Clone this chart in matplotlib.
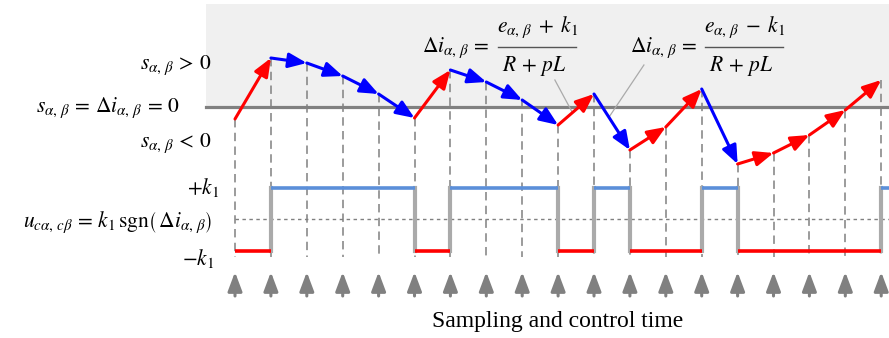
import matplotlib
matplotlib.use("Agg")
import matplotlib.pyplot as plt
import numpy as np

plt.rcParams["mathtext.fontset"] = "stix"
plt.rcParams["font.family"] = ["Liberation Serif", "DejaVu Serif"]

# sampling instants and current error at each one
sample_k = np.arange(19)
current_error = [-1.2, 4.9, 4.4, 3.1, 1.3, -1.1, 3.7, 2.5, 0.7, -1.8,
                 1.3, -4.3, -2.0, 1.8, -5.7, -4.6, -2.8, -0.3, 2.7]
# switching state (+k1 / -k1) applied after each sample
switch_state = [-1, 1, 1, 1, 1, -1, 1, 1, 1, -1, 1, -1, -1, 1, -1, -1, -1, -1, 1]

RED = "#ff0000"
BLUE = "#0000ff"
LIGHT_BLUE = "#5b8fd9"
GREY = "#808080"

# layout of the lower (switching) strip
LOW_MID = -11.25
LOW_AMP = 3.15
DASH_BOTTOM = -15.0
ARROW_TAIL, ARROW_TIP = -18.9, -16.5

fig = plt.figure(figsize=(8.89, 3.38), dpi=100)
ax = fig.add_axes([0, 0, 1, 1])
ax.set_xlim(-6.546, 18.217)
ax.set_ylim(-23.1, 10.7)
ax.axis("off")

# shaded region above the sliding surface
ax.add_patch(plt.Rectangle((-0.81, 0), 30, 10.3, color="#f0f0f0", lw=0, zorder=0))
ax.plot([-0.81, 18.3], [0, 0], color=GREY, lw=2.3, zorder=1)

# dashed sampling lines
for k, s in zip(sample_k, current_error):
    ax.plot([k, k], [s, DASH_BOTTOM], color=GREY, lw=1.1,
            linestyle=(0, (5.5, 3.5)), zorder=2)

# trajectory of the current error
for i in range(len(sample_k) - 1):
    c = BLUE if switch_state[i] > 0 else RED
    ax.annotate("", xy=(sample_k[i + 1], current_error[i + 1]),
                xytext=(sample_k[i], current_error[i]),
                arrowprops=dict(arrowstyle="-|>,head_length=1.1,head_width=0.45",
                                color=c, lw=2.2, shrinkA=0, shrinkB=0,
                                mutation_scale=10),
                zorder=4)

# switching signal
ax.plot([0, 18.3], [LOW_MID, LOW_MID], color=GREY, lw=1.0,
        linestyle=(0, (2.5, 2.5)), zorder=2)
x_end = list(sample_k[1:]) + [18.3]
for i, k in enumerate(sample_k):
    lvl = LOW_MID + LOW_AMP * switch_state[i]
    c = LIGHT_BLUE if switch_state[i] > 0 else RED
    ax.plot([k, x_end[i]], [lvl, lvl], color=c, lw=2.6, zorder=4,
            solid_capstyle="butt")
    if i > 0 and switch_state[i] != switch_state[i - 1]:
        ax.plot([k, k], [LOW_MID - LOW_AMP, LOW_MID + LOW_AMP], color="#aaaaaa",
                lw=3.0, zorder=3)

# sampling arrows
for k in sample_k:
    ax.annotate("", xy=(k, ARROW_TIP), xytext=(k, ARROW_TAIL),
                arrowprops=dict(arrowstyle="-|>,head_length=1.28,head_width=0.48",
                                color=GREY, lw=2.2, shrinkA=0, shrinkB=0,
                                mutation_scale=9))

# labels
fs = 15.5
sub = r"_{\alpha,\,\beta}"
ax.text(-0.67, 4.2, r"$s" + sub + r"\, > \,0$", ha="right", va="center", fontsize=fs)
ax.text(-1.53, -0.1, r"$s" + sub + r"\, = \,\Delta i" + sub + r"\, = \,0$",
        ha="right", va="center", fontsize=fs)
ax.text(-0.67, -3.6, r"$s" + sub + r"\, < \,0$", ha="right", va="center", fontsize=fs)
ax.text(-0.45, -8.1, r"$+k_1$", ha="right", va="center", fontsize=fs)
ax.text(-0.64, -11.6,
        r"$u_{c\alpha,\,c\beta}\, = \,k_1\,\mathrm{sgn}\left(\,\Delta i" + sub + r"\right)$",
        ha="right", va="center", fontsize=fs)
ax.text(-0.58, -15.2, r"$-k_1$", ha="right", va="center", fontsize=fs)

# the two current-change formulas, written as lhs + fraction
for shift, num in [(0.0, r"$e" + sub + r" \;+\; k_1$"), (5.77, r"$e" + sub + r" \;-\; k_1$")]:
    ax.text(7.10 + shift, 5.5, r"$\Delta i" + sub + r"\, =$", ha="right",
            va="baseline", fontsize=fs)
    ax.plot([7.33 + shift, 9.50 + shift], [6.0, 6.0], color="#555555", lw=1.0)
    ax.text(8.42 + shift, 7.5, num, ha="center", va="baseline", fontsize=fs)
    ax.text(8.33 + shift, 3.6, r"$R \,+\, pL$", ha="center", va="baseline", fontsize=fs)

ax.plot([8.91, 9.39], [2.7, -0.5], color="#aaaaaa", lw=0.9, zorder=3)
ax.plot([11.39, 10.42], [4.2, -1.0], color="#aaaaaa", lw=0.9, zorder=3)

ax.text(9.0, -21.5, "Sampling and control time", ha="center", va="center", fontsize=17)

fig.savefig("out.png", dpi=100)
